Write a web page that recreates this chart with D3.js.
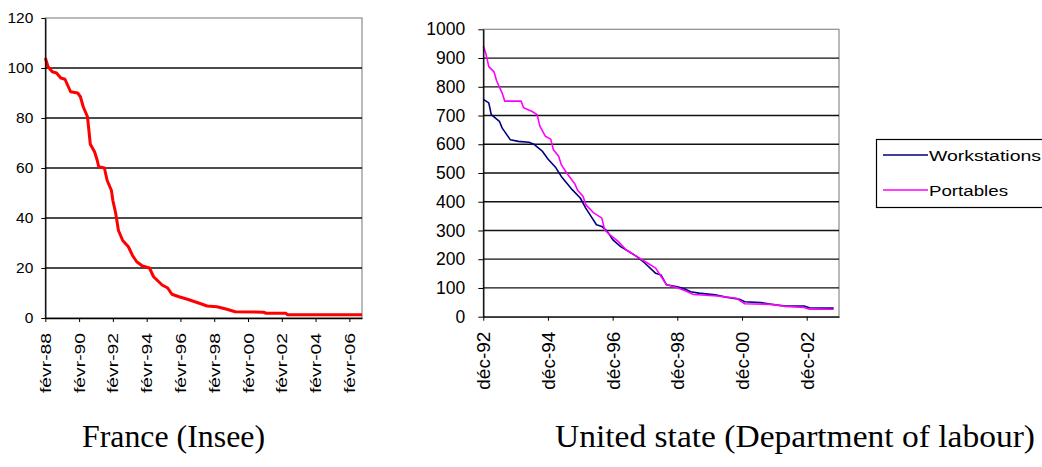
<!DOCTYPE html>
<html>
<head>
<meta charset="utf-8">
<script src="https://cdn.jsdelivr.net/npm/d3@7"></script>
<style>
  body { margin: 0; background: #fff; }
  .axis path, .axis line { stroke: #000; }
  .axis text { font-family: 'Liberation Sans', Arial, sans-serif; fill: #000; }
</style>
</head>
<body>
<div id="chart"></div>
<script>
// France (Insee) - price index
var frDates = ['1988-02','1988-04','1988-07','1988-10','1989-01','1989-04','1989-08','1990-01','1990-03','1990-05',
  '1990-08','1990-09','1990-10','1991-01','1991-03','1991-04','1991-08','1991-10','1992-01','1992-02',
  '1992-04','1992-06','1992-09','1993-01','1993-04','1993-07','1993-11','1994-04','1994-07','1995-01',
  '1995-05','1995-08','1996-01','1996-07','1997-03','1997-09','1998-04','1998-11','1999-05','2001-01',
  '2001-03','2002-05','2002-06','2006-11']
var frValues = [104,100.5,98.5,98,96,95.5,90.5,90,88.5,84.5,
  80.5,75,69.5,66.5,63,60.5,60,55,51,47,
  42,35,31,28.5,25,22.5,20.8,20,16.5,13.2,
  12,9.5,8.5,7.5,6,4.8,4.5,3.5,2.5,2.3,
  1.9,1.9,1.3,1.3]
var frTickDates = ['1988-02','1990-02','1992-02','1994-02','1996-02','1998-02','2000-02','2002-02','2004-02','2006-02']
var frTickLabels = ['févr-88','févr-90','févr-92','févr-94','févr-96','févr-98','févr-00','févr-02','févr-04','févr-06']
var frYTicks = [0,20,40,60,80,100,120]

// United state (Department of labour)
var wsDates = ['1992-12','1993-02','1993-03','1993-06','1993-07','1993-10','1994-01','1994-05','1994-07','1994-10',
  '1994-12','1995-03','1995-05','1995-09','1995-12','1996-02','1996-04','1996-06','1996-08','1996-10',
  '1996-12','1997-03','1997-06','1997-09','1997-12','1998-04','1998-06','1998-08','1998-12','1999-03',
  '1999-05','1999-08','2000-02','2000-06','2000-11','2001-01','2001-07','2001-11','2002-04','2002-11',
  '2003-01','2003-10']
var wsValues = [756,744,703,680,657,616,610,607,599,575,
  549,518,488,442,413,378,349,320,314,297,
  268,244,227,209,186,151,145,111,104,96,
  87,82,76,68,61,52,49,43,37,37,
  31,30]
var ptDates = ['1992-12','1993-01','1993-02','1993-04','1993-05','1993-07','1993-08','1994-02','1994-03','1994-06',
  '1994-08','1994-09','1994-11','1995-01','1995-02','1995-04','1995-05','1995-07','1995-10','1995-11',
  '1996-01','1996-02','1996-05','1996-08','1996-09','1996-11','1997-02','1997-05','1997-08','1997-12',
  '1998-04','1998-06','1998-08','1998-12','1999-03','1999-06','2000-03','2000-10','2001-01','2001-11',
  '2002-04','2002-11','2003-01','2003-10']
var ptValues = [942,913,870,852,820,779,750,750,727,715,
  703,663,628,618,581,558,529,500,462,440,
  419,390,361,343,302,285,262,233,215,192,
  169,140,111,101,90,77,72,64,45,43,
  36,32,26,26]
var usTickDates = ['1992-12','1994-12','1996-12','1998-12','2000-12','2002-12']
var usTickLabels = ['déc-92','déc-94','déc-96','déc-98','déc-00','déc-02']
var usYTicks = [0,100,200,300,400,500,600,700,800,900,1000]
var seriesNames = ['Workstations','Portables']
var seriesColors = ['#000080','#ff00ff']

var parse = d3.timeParse('%Y-%m')

var svg = d3.select('#chart').append('svg')
    .attr('width', 1042)
    .attr('height', 467)

function drawPanel(o) {
  var x = d3.scaleTime()
      .domain(o.xDomain.map(parse))
      .range([o.left, o.right])
  var y = d3.scaleLinear()
      .domain([0, o.yMax])
      .range([o.bottom, o.top])
  var g = svg.append('g')

  // plot area frame (grey)
  g.append('rect')
      .attr('x', o.left).attr('y', o.top)
      .attr('width', o.right - o.left).attr('height', o.bottom - o.top)
      .attr('fill', 'none')
      .attr('stroke', '#8c8c8c')
      .attr('stroke-width', 1.2)

  // gridlines
  g.selectAll('.grid')
      .data(o.yTicks.filter(function (d) { return d > 0 && d < o.yMax }))
      .enter()
    .append('line')
      .attr('x1', o.left).attr('x2', o.right)
      .attr('y1', function (d) { return y(d) })
      .attr('y2', function (d) { return y(d) })
      .attr('stroke', '#111')
      .attr('stroke-width', 1.3)

  // series
  o.series.forEach(function (s) {
    var pts = s.dates.map(function (d, i) { return [parse(d), s.values[i]] })
    g.append('path')
        .datum(pts)
        .attr('fill', 'none')
        .attr('stroke', s.color)
        .attr('stroke-width', s.width)
        .attr('stroke-linejoin', 'round')
        .attr('d', d3.line()
          .x(function (d) { return x(d[0]) })
          .y(function (d) { return y(d[1]) }))
  })

  // Y-axis
  var yAxis = g.append('g')
      .attr('class', 'axis')
      .attr('transform', 'translate(' + o.left + ',0)')
      .call(d3.axisLeft(y).tickValues(o.yTicks).tickFormat(d3.format('d'))
        .tickSize(o.yTickSize).tickPadding(o.yPad).tickSizeOuter(0))
  yAxis.select('.domain').attr('stroke-width', 1.3)
  yAxis.selectAll('text').style('font-size', o.yFont + 'px')

  // X-axis
  var xAxis = g.append('g')
      .attr('class', 'axis')
      .attr('transform', 'translate(0,' + o.bottom + ')')
      .call(d3.axisBottom(x)
        .tickValues(o.tickDates.map(parse))
        .tickFormat(function (d, i) { return o.tickLabels[i] })
        .tickSize(4).tickSizeOuter(0))
  xAxis.select('.domain').attr('stroke-width', 1.3)
  xAxis.selectAll('text')
      .style('font-size', o.xFont + 'px')
      .style('text-anchor', 'end')
      .attr('transform', 'rotate(-90)')
      .attr('x', -o.xPad)
      .attr('y', 0)
      .attr('dy', '0.36em')
      .attr('textLength', o.xLen)
      .attr('lengthAdjust', 'spacingAndGlyphs')
  return g
}

drawPanel({
  left: 45.3, right: 362, top: 18, bottom: 318,
  xDomain: ['1988-02', '2006-11'], yMax: 120, yTicks: frYTicks,
  tickDates: frTickDates, tickLabels: frTickLabels,
  yTickSize: 4, yPad: 8, yFont: 15.5, xFont: 14, xPad: 15, xLen: 60,
  series: [{ dates: frDates, values: frValues, color: '#ff0000', width: 3 }]
})

drawPanel({
  left: 483.3, right: 839, top: 29.3, bottom: 316.7,
  xDomain: ['1992-12', '2003-12'], yMax: 1000, yTicks: usYTicks,
  tickDates: usTickDates, tickLabels: usTickLabels,
  yTickSize: 5, yPad: 13, yFont: 17.5, xFont: 18, xPad: 15, xLen: 58,
  series: [{ dates: wsDates, values: wsValues, color: seriesColors[0], width: 1.6 },
           { dates: ptDates, values: ptValues, color: seriesColors[1], width: 1.6 }]
})

// Legend
var legend = svg.append('g')
legend.append('rect')
    .attr('x', 876.5).attr('y', 139.5)
    .attr('width', 200).attr('height', 68)
    .attr('fill', '#fff')
    .attr('stroke', '#000')
    .attr('stroke-width', 1.2)
var lgItems = legend.selectAll('.lg')
    .data(seriesNames)
    .enter()
  .append('g')
    .attr('transform', function (d, i) { return 'translate(0,' + (155 + i * 35) + ')' })
lgItems.append('line')
    .attr('x1', 883).attr('x2', 928)
    .attr('stroke', function (d, i) { return seriesColors[i] })
    .attr('stroke-width', 1.6)
lgItems.append('text')
    .attr('x', 929)
    .attr('dy', '0.36em')
    .style('font-family', "'Liberation Sans', Arial, sans-serif")
    .style('font-size', '15.5px')
    .attr('textLength', function (d, i) { return i === 0 ? 112 : 79 })
    .attr('lengthAdjust', 'spacingAndGlyphs')
    .text(function (d) { return d })

// Captions
svg.selectAll('.caption')
    .data([{ t: 'France (Insee)', x: 82, w: 183 }, { t: 'United state (Department of labour)', x: 555, w: 480 }])
    .enter()
  .append('text')
    .attr('x', function (d) { return d.x })
    .attr('y', 447)
    .attr('textLength', function (d) { return d.w })
    .attr('lengthAdjust', 'spacingAndGlyphs')
    .style('font-family', "'Liberation Serif', 'Times New Roman', serif")
    .style('font-size', '32px')
    .text(function (d) { return d.t })
</script>
</body>
</html>
